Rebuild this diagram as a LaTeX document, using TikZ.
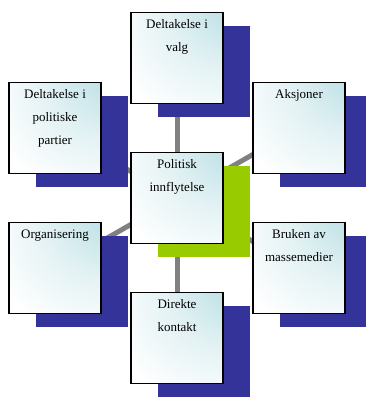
\documentclass[tikz,border=0pt]{standalone}
\usepackage{fontspec}
\setmainfont{Liberation Serif}
\usepackage{tikz}
\usetikzlibrary{positioning,shadows,backgrounds}
\definecolor{shblue}{RGB}{51,51,153}
\definecolor{shgreen}{RGB}{153,204,0}
\definecolor{boxcyan}{RGB}{184,222,227}
\definecolor{linkgray}{RGB}{128,128,128}
\pgfdeclareradialshading{feltshade}{\pgfpoint{40bp}{40bp}}{%
    color(0bp)=(boxcyan); color(8bp)=(boxcyan);
    color(32bp)=(boxcyan!40!white); color(55bp)=(white); color(100bp)=(white)}
\tikzset{felt/.style n args={2}{
    draw=black, line width=1.5pt,
    shading=feltshade,
    minimum width=92pt, minimum height=91pt, inner sep=0pt,
    general shadow={fill=#1, shadow xshift=27pt, shadow yshift=-13pt},
    label={[anchor=north,yshift=-8pt,align=center,inner sep=0pt,
        font=\fontsize{13}{23}\selectfont]north:#2}
    },
    link/.style={draw=linkgray, line width=5pt}
}

\begin{document}
\begin{tikzpicture}[x=1pt,y=1pt]
	\useasboundingbox (0,0) rectangle (366,-397);
	\node[felt={shblue}{Deltakelse i\\valg}] (Valg) at (177,-58) {};
	\node[felt={shblue}{Deltakelse i\\politiske\\partier}] (Partier) at (55,-128) {};
	\node[felt={shblue}{Organisering}] (Org) at (55,-268) {};
	\node[felt={shgreen}{Politisk\\innflytelse}] (Pol) at (177,-198) {};
	\node[felt={shblue}{Aksjoner}] (Aksj) at (299,-128) {};
	\node[felt={shblue}{Bruken av\\massemedier}] (Medier) at (299,-268) {};
	\node[felt={shblue}{Direkte\\kontakt}] (Kont) at (177,-338) {};
	\begin{scope}[on background layer]
	\draw[link] (Pol.center) -- (Valg.center);
	\draw[link] (Pol.center) -- (Partier.center);
	\draw[link] (Pol.center) -- (Aksj.center);
	\draw[link] (Pol.center) -- (Org.center);
	\draw[link] (Pol.center) -- (Medier.center);
	\draw[link] (Pol.center) -- (Kont.center);
	\end{scope}
\end{tikzpicture}
\end{document}
